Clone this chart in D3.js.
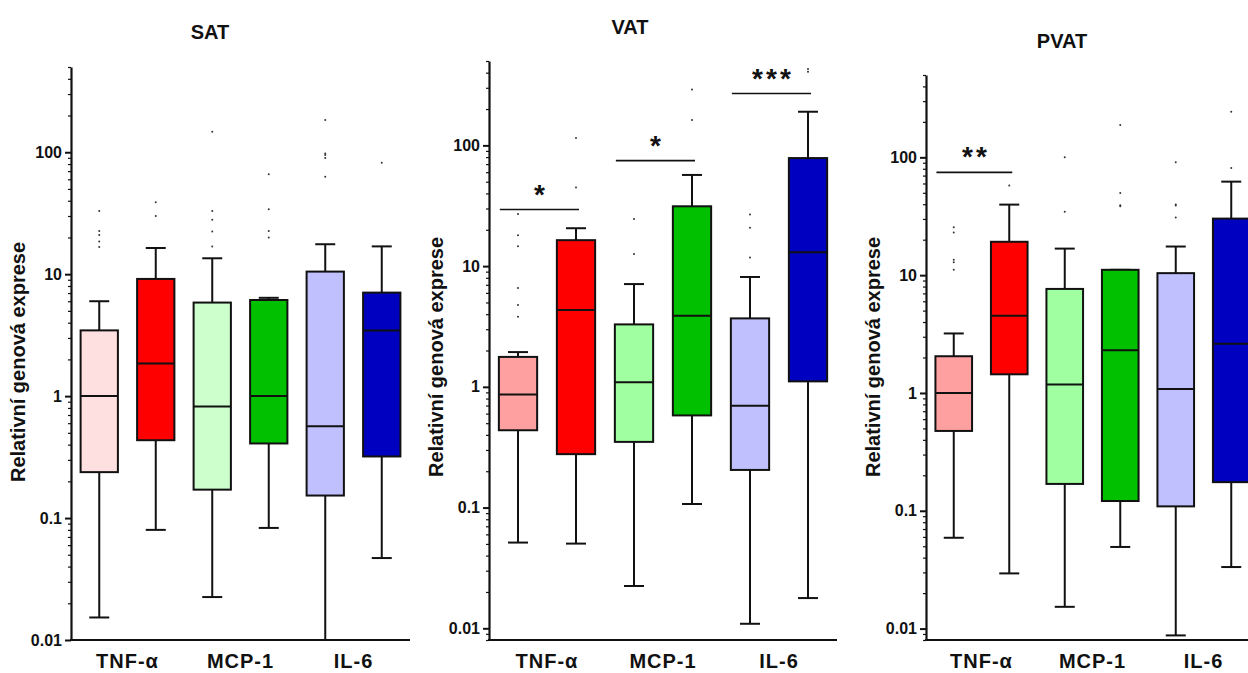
<!DOCTYPE html>
<html>
<head>
<meta charset="utf-8">
<script src="https://cdn.jsdelivr.net/npm/d3@7"></script>
<style>
  html, body { margin: 0; padding: 0; background: #fff; }
  svg { display: block; font-family: "Liberation Sans", Arial, sans-serif; }
</style>
</head>
<body>
<script>
// Gene groups on the x axis; each group has a control box and a patient box
const categories = ["TNF-α", "MCP-1", "IL-6"];
const tickValuesMajor = [0.01, 0.1, 1, 10, 100];
const tickLabels = ["0.01", "0.1", "1", "10", "100"];

// Box colours (light = control, saturated = patients)
const satColors = ["#FFE0E0", "#FF0000", "#CCFFCC", "#00C000", "#C0C0FF", "#0000C0"];
const fatColors = ["#FFA0A0", "#FF0000", "#A0FFA0", "#00C000", "#C0C0FF", "#0000C0"];

// SAT
const satLow  = [0.0153, 0.080, 0.0225, 0.083, 0.01, 0.047];
const satQ1   = [0.238, 0.435, 0.171, 0.409, 0.153, 0.32];
const satMed  = [1.0, 1.85, 0.823, 1.0, 0.567, 3.46];
const satQ3   = [3.46, 9.14, 5.85, 6.14, 10.5, 7.06];
const satHigh = [6.0, 16.4, 13.5, 6.4, 17.6, 16.9];
const satOut  = [[33, 22.6, 21, 18.5, 16.7], [38.9, 30], [147, 33, 27.9, 22.4, 16.9],
                 [66, 34, 22.6, 20], [184, 97.8, 95, 89.5, 63], [82]];
const satSig  = [];

// VAT
const vatLow  = [0.0513, 0.0503, 0.0224, 0.107, 0.0109, 0.0178];
const vatQ1   = [0.437, 0.277, 0.35, 0.58, 0.205, 1.11];
const vatMed  = [0.865, 4.33, 1.09, 3.88, 0.696, 13.0];
const vatQ3   = [1.77, 16.4, 3.29, 31.3, 3.69, 78.5];
const vatHigh = [1.94, 20.6, 7.1, 56.9, 8.13, 190];
const vatOut  = [[27, 18, 14.6, 6.6, 4.76, 3.8], [115, 44.7], [24.6, 12.6],
                 [291, 162], [26.7, 20.8, 11.8], [407, 430]];
const vatSig  = [{ a: 0, b: 1, level: 29.4, stars: 1 },
                 { a: 2, b: 3, level: 74.8, stars: 1 },
                 { a: 4, b: 5, level: 269, stars: 3 }];

// PVAT
const pvatLow  = [0.059, 0.0294, 0.0153, 0.0493, 0.00875, 0.0333];
const pvatQ1   = [0.476, 1.44, 0.169, 0.121, 0.109, 0.175];
const pvatMed  = [1.0, 4.53, 1.18, 2.3, 1.08, 2.62];
const pvatQ3   = [2.05, 19.2, 7.64, 11.1, 10.4, 30.2];
const pvatHigh = [3.2, 39.7, 16.8, 11.1, 17.5, 62.2];
const pvatOut  = [[25.5, 23, 13.5, 12.9, 11.1], [57.8], [100, 34.6],
                  [188, 49.9, 39.2, 38.5], [90.7, 39.7, 39, 30.8], [244, 81.2]];
const pvatSig  = [{ a: 0, b: 1, level: 74.6, stars: 2 }];

const panels = [
  { title: "SAT", titleX: 210, titleY: 39, left: 71, right: 410, top: 67, bottom: 640,
    domain: [0.01, 500], labelY: 362, colors: satColors,
    low: satLow, q1: satQ1, med: satMed, q3: satQ3, high: satHigh, out: satOut, sig: satSig },
  { title: "VAT", titleX: 630, titleY: 34, left: 489, right: 837, top: 61, bottom: 640,
    domain: [0.008, 500], labelY: 357, colors: fatColors,
    low: vatLow, q1: vatQ1, med: vatMed, q3: vatQ3, high: vatHigh, out: vatOut, sig: vatSig },
  { title: "PVAT", titleX: 1062, titleY: 48, left: 926, right: 1259, top: 75, bottom: 640,
    domain: [0.008, 500], labelY: 357, colors: fatColors,
    low: pvatLow, q1: pvatQ1, med: pvatMed, q3: pvatQ3, high: pvatHigh, out: pvatOut, sig: pvatSig }
];

const svg = d3.select("body").append("svg")
  .attr("width", 1248).attr("height", 673);

const ink = "#111";

panels.forEach(p => {
  const g = svg.append("g");
  const y = d3.scaleLog().domain(p.domain).range([p.bottom, p.top]);
  const x = d3.scaleBand().domain(d3.range(6)).range([p.left, p.right]);
  const xc = d3.scaleBand().domain(categories).range([p.left, p.right]);
  const bw = x.bandwidth() * 0.66;
  const capW = 20;
  const cx = i => x(i) + x.bandwidth() / 2;

  // title
  g.append("text").attr("x", p.titleX).attr("y", p.titleY)
    .attr("text-anchor", "middle").attr("font-size", 20).attr("font-weight", "bold")
    .attr("fill", ink).text(p.title);

  // y axis title
  g.append("text")
    .attr("transform", `translate(${p.left - 51},${p.labelY}) rotate(-90)`)
    .attr("text-anchor", "middle").attr("dominant-baseline", "middle")
    .attr("font-size", 20).attr("font-weight", "bold").attr("fill", ink)
    .text("Relativní genová exprese");

  // minor ticks
  const minor = y.ticks().filter(v => !tickValuesMajor.some(m => Math.abs(m - v) / m < 1e-6));
  g.append("g").attr("transform", `translate(${p.left},0)`)
    .call(d3.axisLeft(y).tickValues(minor).tickSize(3).tickSizeOuter(0).tickFormat(""))
    .call(a => a.select(".domain").remove())
    .call(a => a.selectAll("line").attr("stroke", ink).attr("stroke-width", 1.2));

  // major ticks + axis line
  const ya = g.append("g").attr("transform", `translate(${p.left},0)`)
    .call(d3.axisLeft(y).tickValues(tickValuesMajor).tickSize(6).tickSizeOuter(0)
      .tickPadding(3).tickFormat((d, i) => tickLabels[i]));
  ya.select(".domain").attr("stroke", ink).attr("stroke-width", 2.2);
  ya.selectAll(".tick line").attr("stroke", ink).attr("stroke-width", 2);
  ya.selectAll(".tick text").attr("font-size", 16).attr("font-weight", "bold")
    .attr("fill", ink).attr("font-family", "Liberation Sans, Arial, sans-serif");

  // x axis with category labels
  const xa = g.append("g").attr("transform", `translate(0,${p.bottom})`)
    .call(d3.axisBottom(xc).tickSize(0).tickSizeOuter(0).tickPadding(14));
  xa.select(".domain").attr("stroke", ink).attr("stroke-width", 2.2)
    .attr("d", `M${p.left - 1},0H${p.right}`);
  xa.selectAll(".tick text").attr("font-size", 20).attr("font-weight", "bold")
    .attr("letter-spacing", 1).attr("fill", ink).attr("dy", "0.71em")
    .attr("font-family", "Liberation Sans, Arial, sans-serif");

  const idx = d3.range(6);

  // whiskers
  const wg = g.append("g").attr("stroke", ink).attr("stroke-width", 2);
  idx.forEach(i => {
    wg.append("line").attr("x1", cx(i)).attr("x2", cx(i))
      .attr("y1", y(p.high[i])).attr("y2", y(p.q3[i]));
    wg.append("line").attr("x1", cx(i)).attr("x2", cx(i))
      .attr("y1", y(p.q1[i])).attr("y2", y(p.low[i]));
    wg.append("line").attr("x1", cx(i) - capW / 2).attr("x2", cx(i) + capW / 2)
      .attr("y1", y(p.high[i])).attr("y2", y(p.high[i]));
    wg.append("line").attr("x1", cx(i) - capW / 2).attr("x2", cx(i) + capW / 2)
      .attr("y1", y(p.low[i])).attr("y2", y(p.low[i]));
  });

  // boxes
  g.append("g").selectAll("rect").data(idx).join("rect")
    .attr("x", i => cx(i) - bw / 2).attr("width", bw)
    .attr("y", i => y(p.q3[i])).attr("height", i => y(p.q1[i]) - y(p.q3[i]))
    .attr("fill", i => p.colors[i]).attr("stroke", ink).attr("stroke-width", 2);

  // medians
  g.append("g").selectAll("line").data(idx).join("line")
    .attr("x1", i => cx(i) - bw / 2).attr("x2", i => cx(i) + bw / 2)
    .attr("y1", i => y(p.med[i])).attr("y2", i => y(p.med[i]))
    .attr("stroke", ink).attr("stroke-width", 2);

  // outliers
  const og = g.append("g").attr("fill", "#333");
  idx.forEach(i => {
    p.out[i].forEach(v => {
      og.append("circle").attr("cx", cx(i)).attr("cy", y(v)).attr("r", 1);
    });
  });

  // significance brackets
  p.sig.forEach(s => {
    const x1 = cx(s.a) - bw / 2 + 1;
    const x2 = cx(s.b) + 3;
    const ly = y(s.level);
    g.append("line").attr("x1", x1).attr("x2", x2).attr("y1", ly).attr("y2", ly)
      .attr("stroke", ink).attr("stroke-width", 1.6);
    const mid = (x1 + x2) / 2;
    const step = 14;
    d3.range(s.stars).forEach(k => {
      g.append("text")
        .attr("x", mid + (k - (s.stars - 1) / 2) * step)
        .attr("y", ly - 6)
        .attr("text-anchor", "middle").attr("font-size", 28).attr("font-weight", "bold")
        .attr("fill", ink).text("*");
    });
  });
});
</script>
</body>
</html>
